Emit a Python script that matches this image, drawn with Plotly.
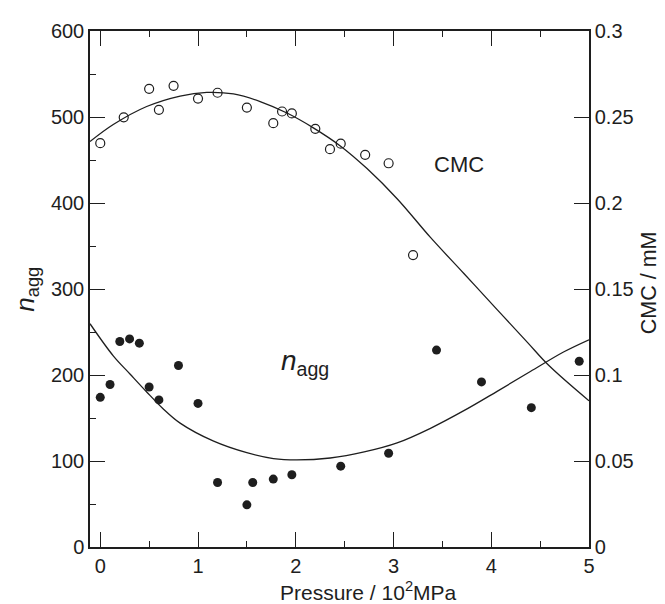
import plotly.graph_objects as go

# CMC data (open circles), pressure in 10^2 MPa, CMC in mM
cmc_p = [0.00, 0.24, 0.50, 0.60, 0.75, 1.00, 1.20, 1.50, 1.77, 1.86, 1.96, 2.20, 2.35, 2.46, 2.71, 2.95, 3.20]
cmc_v = [0.2348, 0.2498, 0.2664, 0.2542, 0.2681, 0.2607, 0.2641, 0.2555, 0.2464, 0.2532, 0.2521,
         0.2431, 0.2313, 0.2345, 0.2280, 0.2231, 0.1697]

# aggregation number data (filled circles)
nagg_p = [0.00, 0.10, 0.20, 0.30, 0.40, 0.50, 0.60, 0.80, 1.00, 1.20, 1.50, 1.56, 1.77, 1.96,
          2.46, 2.95, 3.44, 3.90, 4.41, 4.90]
nagg_v = [174, 189, 239, 242, 237, 186, 171, 211, 167, 75, 49, 75, 79, 84, 94, 109, 229, 192, 162, 216]

# fitted curves
cmc_fit_p = [-0.105, 0.133, 0.475, 0.817, 1.09, 1.363, 1.636, 1.91, 2.18, 2.456, 2.729, 3.037,
             3.378, 3.72, 4.06, 4.37, 4.59, 5.0]
cmc_fit_v = [0.2357, 0.2456, 0.2561, 0.2622, 0.2643, 0.2634, 0.2590, 0.2523, 0.2437, 0.2332,
             0.2200, 0.2025, 0.1800, 0.1590, 0.1380, 0.1190, 0.1055, 0.0850]
nagg_fit_p = [-0.105, 0.133, 0.304, 0.475, 0.645, 0.817, 1.16, 1.499, 1.772, 2.01,
              2.353, 2.70, 3.037, 3.378, 3.72, 4.06, 4.40, 4.744, 5.0]
nagg_fit_v = [259.6, 222.3, 201.2, 180.3, 160.5, 144, 123, 109.6, 102.8, 101.3,
              103.5, 110.5, 121, 138, 158.5, 181, 204, 227, 241]

x_ticks = [0, 1, 2, 3, 4, 5]

FONT = "Liberation Sans, Arial, sans-serif"
INK = "#1e1e1e"

fig = go.Figure()
fig.add_trace(go.Scatter(x=nagg_fit_p, y=nagg_fit_v, mode="lines",
                         line=dict(color=INK, width=1.3, shape="spline", smoothing=1.0),
                         showlegend=False))
fig.add_trace(go.Scatter(x=nagg_p, y=nagg_v, mode="markers",
                         marker=dict(symbol="circle", size=9, color=INK), showlegend=False))
fig.add_trace(go.Scatter(x=cmc_fit_p, y=cmc_fit_v, mode="lines", yaxis="y2",
                         line=dict(color=INK, width=1.3, shape="spline", smoothing=1.0),
                         showlegend=False))
fig.add_trace(go.Scatter(x=cmc_p, y=cmc_v, mode="markers", yaxis="y2",
                         marker=dict(symbol="circle-open", size=9, color=INK,
                                     line=dict(width=1.2, color=INK)), showlegend=False))

axis_common = dict(showline=True, linecolor=INK, linewidth=1.5, ticks="inside",
                   ticklen=15, tickwidth=1.3, tickcolor=INK, showgrid=False, zeroline=False,
                   tickfont=dict(family=FONT, size=20, color=INK))

# the page body adds an 8 px offset, so the figure is 8 px smaller and margins shifted
fig.update_layout(
    width=657, height=596,
    margin=dict(l=82, r=76, t=15, b=57),
    paper_bgcolor="white", plot_bgcolor="white",
    font=dict(family=FONT, color=INK),
    xaxis=dict(range=[-0.105, 5.0], tickvals=x_ticks, mirror="ticks",
               minor=dict(dtick=0.5, ticks="inside", ticklen=6, tickwidth=1.2, tickcolor=INK),
               **axis_common),
    yaxis=dict(range=[0, 600], dtick=100,
               minor=dict(dtick=50, ticks="inside", ticklen=6, tickwidth=1.2, tickcolor=INK),
               **axis_common),
    yaxis2=dict(range=[0, 0.3], dtick=0.05, overlaying="y", side="right", **axis_common),
    annotations=[
        dict(text="Pressure / 10<sup>2</sup>MPa", xref="paper", yref="paper",
             x=0.558, y=-0.086, xanchor="center", yanchor="middle", showarrow=False,
             font=dict(family=FONT, size=21, color=INK)),
        dict(text="<i>n</i><sub>agg</sub>", xref="paper", yref="paper",
             x=-0.129, y=0.5, xanchor="center", yanchor="middle", textangle=-90,
             showarrow=False, font=dict(family=FONT, size=26, color=INK)),
        dict(text="CMC / mM", xref="paper", yref="paper",
             x=1.12, y=0.513, xanchor="center", yanchor="middle", textangle=-90,
             showarrow=False, font=dict(family=FONT, size=21.5, color=INK)),
        dict(text="CMC", x=3.67, y=0.2226, yref="y2", xref="x", showarrow=False,
             font=dict(family=FONT, size=22, color=INK)),
        dict(text="<i>n</i><sub>agg</sub>", x=2.09, y=214, xref="x", yref="y",
             showarrow=False, font=dict(family=FONT, size=28, color=INK)),
    ],
)

fig.write_html("out.html")
